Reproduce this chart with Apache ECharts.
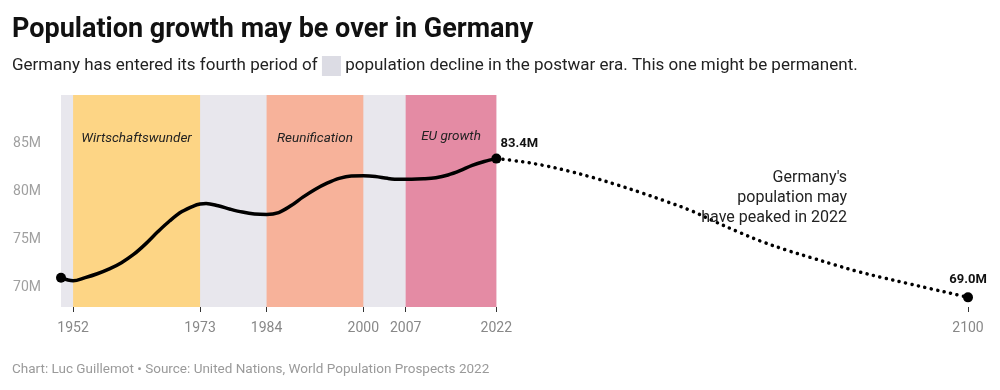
<!DOCTYPE html>
<html>
<head>
<meta charset="utf-8">
<script src="https://cdn.jsdelivr.net/npm/echarts@6/dist/echarts.min.js"></script>
<style>
html,body{margin:0;padding:0;background:#fff;}
#c{width:1000px;height:390px;}
</style>
</head>
<body>
<div id="c"></div>
<script>
// ---- data ----
const histYears = [1950,1952,1954,1956,1958,1960,1962,1964,1966,1968,1970,1972,1973,1974,1976,1978,1980,1982,1984,1986,1988,1990,1992,1994,1996,1998,2000,2002,2004,2006,2008,2010,2012,2014,2016,2018,2020,2022];
const histValues = [71.04,70.72,71.05,71.45,71.95,72.6,73.45,74.55,75.8,76.95,77.9,78.5,78.68,78.75,78.5,78.15,77.85,77.65,77.6,77.8,78.5,79.4,80.2,80.85,81.35,81.6,81.62,81.55,81.35,81.25,81.25,81.3,81.42,81.7,82.15,82.7,83.1,83.4];
const projYears = [2022,2026,2030,2034,2038,2042,2046,2050,2054,2058,2062,2066,2070,2074,2078,2082,2086,2090,2094,2098,2100];
const projValues = [83.4,83.1,82.67,82.1,81.43,80.67,79.85,78.98,78.05,76.9,75.8,74.77,73.9,73.13,72.37,71.65,71.03,70.45,69.87,69.3,69.0];
const xTickLabels = [1952,1973,1984,2000,2007,2022,2100];
const yTickLabels = [70,75,80,85];
const periodNames = ['Wirtschaftswunder','Reunification','EU growth'];
const periodStart = [1952,1984,2007];
const periodEnd = [1973,2000,2022];
const declineStart = 1950, declineEnd = 2022;
const endPointYears = [1950,2022,2100];
const endPointValues = [71.04,83.4,69.0];
const titleText = 'Population growth may be over in Germany';
const subtitleText = 'Germany has entered its fourth period of {box|} population decline in the postwar era. This one might be permanent.';
const footerText = 'Chart: Luc Guillemot \u2022 Source: United Nations, World Population Prospects 2022';
const noteLines = ["Germany's", 'population may', 'have peaked in 2022'];
const notePos = [2080, 79.3];

// ---- chart ----
const FONT = 'Roboto';
const periodColors = ['#fdd585','#f7b29a','#e48ba4'];
const chart = echarts.init(document.getElementById('c'), null, {renderer:'canvas'});

const areas = [[{xAxis: declineStart, itemStyle:{color:'#e8e7ed'}}, {xAxis: declineEnd}]];
periodNames.forEach((n,i)=>{
  const lbl = i===2 ? {distance:35} : {};
  areas.push([{xAxis: periodStart[i], name: n, itemStyle:{color: periodColors[i]}, label: lbl}, {xAxis: periodEnd[i]}]);
});

const option = {
  backgroundColor:'#fff',
  animation:false,
  title:[
    {text: titleText, left: 12, top: 14, padding:0, textStyle:{fontFamily:FONT, fontSize:27, fontWeight:'bold', color:'#111', lineHeight:32}},
    {text: subtitleText, left: 12, top: 56, padding:0, textStyle:{fontFamily:FONT, fontSize:17, fontWeight:'normal', color:'#222', lineHeight:20,
      rich:{box:{width:19, height:20, backgroundColor:'#dcdce4'}}}},
    {text: footerText, left: 12, top: 362, padding:0, textStyle:{fontFamily:FONT, fontSize:13.5, fontWeight:'normal', color:'#9a9a9a', lineHeight:16}}
  ],
  grid:{left:61, right:32, top:95, bottom:83, containLabel:false},
  xAxis:{
    type:'value', min:1950, max:2100,
    splitLine:{show:false},
    axisLine:{show:false},
    axisTick:{show:true, length:5, lineStyle:{color:'#333', width:1}, customValues: xTickLabels},
    axisLabel:{customValues: xTickLabels, margin:14, color:'#888', fontFamily:FONT, fontSize:14, formatter: v=>String(v)}
  },
  yAxis:{
    type:'value', min:68, max:90,
    splitLine:{show:false},
    axisLine:{show:false},
    axisTick:{show:false},
    axisLabel:{customValues: yTickLabels, margin:20, color:'#a0a0a0', fontFamily:FONT, fontSize:14, formatter: v=>v+'M'}
  },
  series:[
    {
      type:'line', data:[], z:1, silent:true,
      markArea:{silent:true,
        label:{show:true, position:'insideTop', distance:37, fontFamily:FONT, fontSize:13.5, fontStyle:'italic', color:'#222'},
        data: areas}
    },
    {
      type:'line', z:3, smooth:0.35, symbol:'none',
      data: histYears.map((y,i)=>[y, histValues[i]]),
      lineStyle:{color:'#000', width:3.5, cap:'round', join:'round'}
    },
    {
      type:'line', z:3, smooth:0.35, symbol:'none',
      data: projYears.map((y,i)=>[y, projValues[i]]),
      lineStyle:{color:'#000', width:3.5, type:[0.1,6.5], cap:'round'},
      markPoint:{
        symbol:'circle', symbolSize:0, silent:true,
        data:[{coord: notePos, value: noteLines.join('\n')}],
        label:{show:true, formatter:p=>p.value, position:'inside', align:'right', verticalAlign:'middle',
          fontFamily:FONT, fontSize:16, color:'#222', lineHeight:20}
      }
    },
    {
      type:'scatter', z:4, symbolSize:10, itemStyle:{color:'#000', opacity:1},
      data: endPointYears.map((y,i)=>{
        const d = {value:[y, endPointValues[i]]};
        if (i===1) d.label = {show:true, position:'top', distance:3, offset:[23,0]};
        if (i===2) d.label = {show:true, position:'top', distance:6, offset:[0,0]};
        return d;
      }),
      label:{show:false, formatter:p=>p.value[1].toFixed(1)+'M', fontFamily:FONT, fontSize:13, fontWeight:'bold', color:'#111'}
    }
  ]
};
chart.setOption(option);
</script>
</body>
</html>
